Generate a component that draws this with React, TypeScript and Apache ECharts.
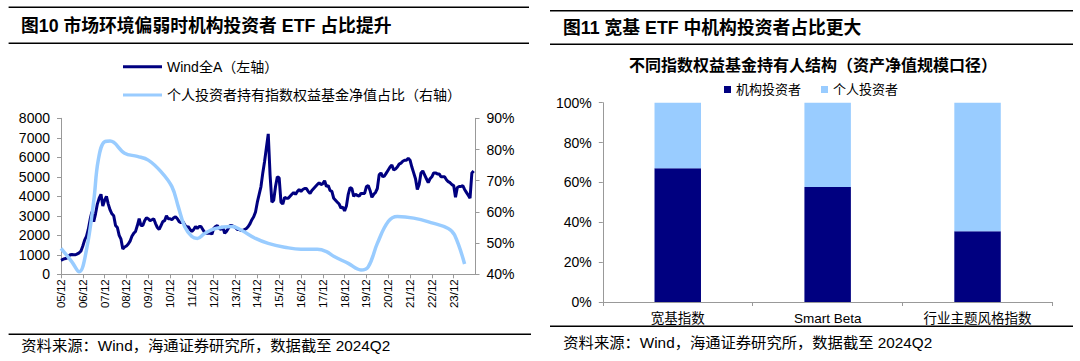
import React, { useEffect, useRef } from "react";
import * as echarts from "echarts";

const FONT = "'Liberation Sans', Arial, 'Noto Sans CJK SC', sans-serif";

// ---------- Left chart data ----------
// x tick labels (one per December, yy/12)
const xTickLabels = [
  "05/12", "06/12", "07/12", "08/12", "09/12", "10/12", "11/12", "12/12", "13/12",
  "14/12", "15/12", "16/12", "17/12", "18/12", "19/12", "20/12", "21/12", "22/12", "23/12",
];

// Wind All-A index, monthly, from 2005-12 (month 0) to 2024-11
const windAllA = [
  720,
  // 2006
  760, 800, 820, 900, 1000, 1010, 1000, 1000, 1050, 1100, 1200, 1450,
  // 2007
  1750, 1950, 2300, 2800, 3200, 2700, 3100, 3600, 3900, 4100, 3500, 3800,
  // 2008
  4000, 3600, 3300, 3100, 3000, 2500, 2400, 2000, 1800, 1300, 1400, 1450,
  // 2009
  1550, 1700, 1950, 2100, 2200, 2500, 2850, 2500, 2500, 2750, 2900, 2850,
  // 2010
  2750, 2800, 2850, 2600, 2400, 2300, 2500, 2700, 2750, 3000, 2850, 2850,
  // 2011
  2800, 2900, 2950, 2850, 2700, 2650, 2700, 2550, 2400, 2450, 2300, 2200,
  // 2012
  2300, 2450, 2350, 2450, 2450, 2300, 2150, 2100, 2100, 2150, 2050, 2350,
  // 2013
  2450, 2500, 2350, 2300, 2450, 2100, 2200, 2350, 2500, 2500, 2450, 2400,
  // 2014
  2300, 2300, 2250, 2250, 2300, 2350, 2450, 2600, 2800, 2950, 3200, 3700,
  // 2015
  4100, 4500, 5200, 5800, 6500, 7200, 5100, 3700, 3800, 4500, 5000, 4950,
  // 2016
  3700, 3600, 3950, 3900, 3900, 4000, 4100, 4200, 4100, 4250, 4350, 4250,
  // 2017
  4350, 4400, 4400, 4250, 4150, 4300, 4400, 4500, 4600, 4700, 4600, 4650,
  // 2018
  4800, 4500, 4550, 4300, 4250, 3900, 3800, 3700, 3600, 3400, 3450, 3250,
  // 2019
  3500, 4100, 4450, 4400, 4000, 4100, 4050, 4000, 4150, 4150, 4150, 4500,
  // 2020
  4550, 4300, 3950, 4100, 4200, 4400, 5100, 5200, 5000, 5050, 5200, 5350,
  // 2021
  5500, 5600, 5350, 5400, 5500, 5650, 5700, 5800, 5850, 5850, 5950, 5850,
  // 2022
  5500, 5200, 4900, 4350, 4600, 5200, 5300, 5100, 4900, 4700, 4900, 5000,
  // 2023
  5200, 5200, 5150, 5150, 5000, 5000, 5000, 4850, 4750, 4700, 4600, 4550,
  // 2024 Jan-Nov
  3950, 4450, 4500, 4500, 4550, 4350, 4200, 4050, 3900, 5200, 5300,
];

// Individual investors' share of index equity fund NAV (%), read at months since 2005-12
const retailMonths = [
  0, 6, 10, 14, 18, 20.5, 24, 27, 35, 42, 48, 55, 61, 64.5, 68, 72, 75, 79, 85, 94,
  99, 107, 114, 123, 132, 141, 146, 150, 158, 165, 169, 174, 180, 185, 194, 204, 213,
  216.5, 222,
];
const retailShare = [
  48.3, 44.0, 40.8, 47.8, 63.5, 76.6, 82.5, 82.7, 78.8, 77.8, 76.6, 72.9, 68.1, 61.7,
  55.3, 52.1, 51.5, 53.1, 54.7, 55.3, 54.2, 51.5, 49.9, 48.7, 48.0, 48.0, 47.3, 45.8,
  43.5, 41.4, 42.4, 49.9, 56.9, 58.5, 58.0, 56.5, 54.7, 52.6, 43.3,
];

// ---------- Right chart data ----------
const barCategories = ["宽基指数", "Smart Beta", "行业主题风格指数"];
const institutional = [67.1, 57.7, 35.5];
const individual = [32.9, 42.3, 64.5];

const lineName1 = "Wind全A（左轴）";
const lineName2 = "个人投资者持有指数权益基金净值占比（右轴）";
const barName1 = "机构投资者";
const barName2 = "个人投资者";

const NAVY = "#000080";
const LIGHT = "#99CCFF";
const AXIS = "#999999";

export default function App() {
  const ref = useRef<HTMLDivElement>(null);

  useEffect(() => {
    if (!ref.current) return;
    const chart = echarts.init(ref.current, undefined, { renderer: "svg" });

    const axisLine = { show: true, onZero: false, lineStyle: { color: AXIS, width: 1 } };
    const axisTick = { show: true, length: 4, inside: false, lineStyle: { color: AXIS } };
    const label = (size: number, margin: number) => ({
      fontSize: size,
      margin,
      color: "#000",
      fontFamily: FONT,
    });

    const text = (t: string, x: number, y: number, font: string, align = "left") => ({
      type: "text",
      style: { text: t, x, y, font, fill: "#000", align, verticalAlign: "middle" },
      silent: true,
    });
    const rule = (x1: number, x2: number, y: number) => ({
      type: "line",
      shape: { x1, y1: y, x2, y2: y },
      style: { stroke: "#000", lineWidth: 1.5 },
      silent: true,
    });

    chart.setOption({
      animation: false,
      textStyle: { fontFamily: FONT },
      grid: [
        { left: 61, top: 118.3, width: 414.5, height: 156 },
        { left: 602.8, top: 102.7, width: 449.7, height: 199.3 },
      ],
      xAxis: [
        {
          type: "value",
          gridIndex: 0,
          min: 0,
          max: 228,
          interval: 12,
          axisLine,
          axisTick,
          splitLine: { show: false },
          axisLabel: {
            ...label(11.5, 5),
            rotate: 90,
            showMaxLabel: false,
            formatter: (v: number) => xTickLabels[Math.round(v / 12)] ?? "",
          },
        },
        {
          type: "category",
          gridIndex: 1,
          data: barCategories,
          axisLine,
          axisTick,
          axisLabel: label(13.5, 10),
        },
      ],
      yAxis: [
        {
          type: "value",
          gridIndex: 0,
          position: "left",
          min: 0,
          max: 8000,
          interval: 1000,
          axisLine,
          axisTick,
          splitLine: { show: false },
          axisLabel: { ...label(14, 11), formatter: (v: number) => String(v) },
        },
        {
          type: "value",
          gridIndex: 0,
          position: "right",
          min: 40,
          max: 90,
          interval: 10,
          axisLine,
          axisTick,
          splitLine: { show: false },
          axisLabel: { ...label(14, 11), formatter: "{value}%" },
        },
        {
          type: "value",
          gridIndex: 1,
          min: 0,
          max: 100,
          interval: 20,
          axisLine,
          axisTick,
          splitLine: { show: false },
          axisLabel: { ...label(14, 11), formatter: "{value}%" },
        },
      ],
      legend: [
        {
          data: [lineName1, lineName2],
          orient: "vertical",
          left: 123,
          top: 59.7,
          padding: 0,
          icon: "rect",
          itemWidth: 39,
          itemHeight: 3,
          itemGap: 14.3,
          itemTextGap: 5,
          selectedMode: false,
          textStyle: { fontSize: 14, color: "#000", fontFamily: FONT, lineHeight: 14 },
        },
        {
          data: [barName1, barName2],
          orient: "horizontal",
          left: 724,
          top: 82.5,
          padding: 0,
          icon: "rect",
          itemWidth: 7,
          itemHeight: 7,
          itemGap: 20,
          itemTextGap: 2,
          selectedMode: false,
          textStyle: { fontSize: 13, color: "#000", fontFamily: FONT, lineHeight: 14 },
        },
      ],
      series: [
        {
          name: lineName1,
          type: "line",
          xAxisIndex: 0,
          yAxisIndex: 0,
          data: windAllA.map((v, i) => [i, v]),
          symbol: "none",
          lineStyle: { width: 3, color: NAVY },
          itemStyle: { color: NAVY },
        },
        {
          name: lineName2,
          type: "line",
          xAxisIndex: 0,
          yAxisIndex: 1,
          data: retailMonths.map((m, i) => [m, retailShare[i]]),
          smooth: 0.4,
          symbol: "none",
          lineStyle: { width: 3.5, color: LIGHT },
          itemStyle: { color: LIGHT },
        },
        {
          name: barName1,
          type: "bar",
          xAxisIndex: 1,
          yAxisIndex: 2,
          stack: "holders",
          barWidth: "31%",
          data: institutional,
          itemStyle: { color: NAVY },
        },
        {
          name: barName2,
          type: "bar",
          xAxisIndex: 1,
          yAxisIndex: 2,
          stack: "holders",
          barWidth: "31%",
          data: individual,
          itemStyle: { color: LIGHT },
        },
      ],
      graphic: [
        rule(8.6, 529, 7.3),
        rule(8.6, 529, 43.3),
        text("图10 市场环境偏弱时机构投资者 ETF 占比提升", 21, 25.7, `bold 17.8px ${FONT}`),
        rule(8.6, 531, 334.3),
        text("资料来源：Wind，海通证券研究所，数据截至 2024Q2", 21.3, 345, `15.3px ${FONT}`),
        rule(550, 1073, 10.7),
        rule(550, 1073, 44.3),
        text("图11 宽基 ETF 中机构投资者占比更大", 563, 27.8, `bold 17.8px ${FONT}`),
        text("不同指数权益基金持有人结构（资产净值规模口径）", 813, 65, `bold 16px ${FONT}`, "center"),
        rule(550, 1073, 326.3),
        text("资料来源：Wind，海通证券研究所，数据截至 2024Q2", 563.3, 342, `15.3px ${FONT}`),
      ],
    });

    return () => chart.dispose();
  }, []);

  return (
    <div
      ref={ref}
      style={{ position: "absolute", left: 0, top: 0, width: 1080, height: 361, background: "#fff" }}
    />
  );
}
